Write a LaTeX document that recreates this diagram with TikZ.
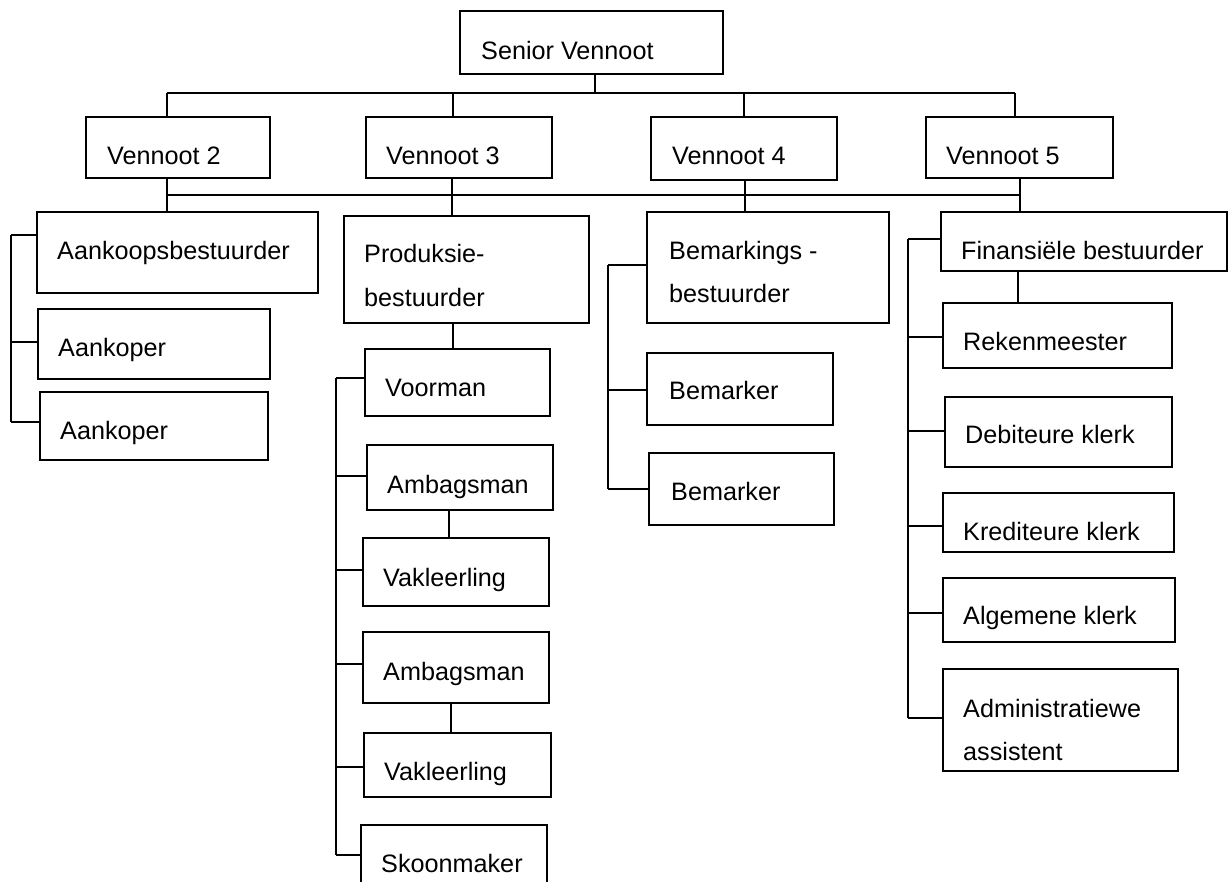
\documentclass[tikz,border=0pt]{standalone}
\usepackage{fontspec}
\setmainfont{Liberation Sans}
\begin{document}
\begin{tikzpicture}[x=1pt,y=-1pt,
  box/.style={draw, line width=1.7pt, inner sep=0pt, outer sep=0pt},
  conn/.style={line width=1.4pt},
  lbl/.style={anchor=base west, inner sep=0pt, font=\fontsize{25.2}{30}\selectfont}]
\clip (0,0) rectangle (1229,882);
% box: name, left, top, right, bottom
\newcommand\orgbox[5]{\node[box, minimum width={#4-#2}, minimum height={#5-#3}] (#1) at ({(#2+#4)/2},{(#3+#5)/2}) {};}
% top level
\orgbox{sv}{460}{11}{723}{74}
\node[lbl] (sv-t) at (481,60) {Senior Vennoot};
% partners
\orgbox{v2}{86}{117}{270}{178}
\orgbox{v3}{366}{117}{552}{178}
\orgbox{v4}{651}{117}{837}{180}
\orgbox{v5}{926}{117}{1113}{178}
\node[lbl] (v2-t) at (107,165) {Vennoot 2};
\node[lbl] (v3-t) at (386,165) {Vennoot 3};
\node[lbl] (v4-t) at (672,165) {Vennoot 4};
\node[lbl] (v5-t) at (946,165) {Vennoot 5};
% purchasing
\orgbox{aank}{37}{212}{318}{293}
\orgbox{ak1}{38}{309}{270}{379}
\orgbox{ak2}{40}{392}{268}{460}
\node[lbl] (aank-t) at (57,260) {Aankoopsbestuurder};
\node[lbl] (ak1-t) at (58,357) {Aankoper};
\node[lbl] (ak2-t) at (60,439) {Aankoper};
% production
\orgbox{prod}{344}{216}{589}{323}
\orgbox{voor}{365}{349}{550}{416}
\orgbox{amb1}{367}{445}{553}{510}
\orgbox{vak1}{363}{538}{549}{606}
\orgbox{amb2}{363}{632}{549}{703}
\orgbox{vak2}{364}{733}{551}{797}
\orgbox{skoon}{361}{825}{547}{885}
\node[lbl] (prod-t1) at (364,263) {Produksie-};
\node[lbl] (prod-t2) at (364,307) {bestuurder};
\node[lbl] (voor-t) at (385,397) {Voorman};
\node[lbl] (amb1-t) at (387,493) {Ambagsman};
\node[lbl] (vak1-t) at (383,586) {Vakleerling};
\node[lbl] (amb2-t) at (383,680) {Ambagsman};
\node[lbl] (vak2-t) at (384,780) {Vakleerling};
\node[lbl] (skoon-t) at (381,872) {Skoonmaker};
% marketing
\orgbox{bem}{647}{212}{889}{323}
\orgbox{bm1}{647}{353}{833}{425}
\orgbox{bm2}{649}{453}{834}{525}
\node[lbl] (bem-t1) at (669,260) {Bemarkings -};
\node[lbl] (bem-t2) at (669,303) {bestuurder};
\node[lbl] (bm1-t) at (669,400) {Bemarker};
\node[lbl] (bm2-t) at (671,500) {Bemarker};
% finance
\orgbox{fin}{941}{212}{1227}{271}
\orgbox{rek}{943}{303}{1172}{368}
\orgbox{deb}{945}{397}{1172}{467}
\orgbox{kred}{943}{493}{1174}{552}
\orgbox{alg}{943}{578}{1175}{642}
\orgbox{adm}{943}{669}{1178}{771}
\node[lbl] (fin-t) at (961,260) {Finansiële bestuurder};
\node[lbl] (rek-t) at (963,351) {Rekenmeester};
\node[lbl] (deb-t) at (965,443) {Debiteure klerk};
\node[lbl] (kred-t) at (963,540) {Krediteure klerk};
\node[lbl] (alg-t) at (963,624) {Algemene klerk};
\node[lbl] (adm-t1) at (963,717) {Administratiewe};
\node[lbl] (adm-t2) at (963,760) {assistent};

% senior partner to partners
\draw[conn] (sv.south -| 595,0) -- (595,93);
\draw[conn] (167,93) -- (1015,93);
\foreach \n/\x in {v2/167,v3/453,v4/744,v5/1015}
  \draw[conn] (\x,93) -- (\n.north -| \x,0);
% partners to department heads
\draw[conn] (167,195) -- (1021,195);
\draw[conn] (v2.south -| 167,0) -- (aank.north -| 167,0);
\draw[conn] (v3.south -| 452,0) -- (prod.north -| 452,0);
\draw[conn] (v4.south -| 745,0) -- (bem.north -| 745,0);
\draw[conn] (v5.south -| 1020,0) -- (fin.north -| 1020,0);
% purchasing bracket
\draw[conn] (11,235) -- (11,422);
\foreach \n/\y in {aank/235,ak1/342,ak2/422}
  \draw[conn] (11,\y) -- (\n.west |- 0,\y);
% production
\draw[conn] (prod.south -| 453,0) -- (voor.north -| 453,0);
\draw[conn] (336,378) -- (336,855);
\foreach \n/\y in {voor/378,amb1/476,vak1/570,amb2/664,vak2/767,skoon/855}
  \draw[conn] (336,\y) -- (\n.west |- 0,\y);
\draw[conn] (amb1.south -| 449,0) -- (vak1.north -| 449,0);
\draw[conn] (amb2.south -| 451,0) -- (vak2.north -| 451,0);
% marketing bracket
\draw[conn] (608,265) -- (608,489);
\foreach \n/\y in {bem/265,bm1/390,bm2/489}
  \draw[conn] (608,\y) -- (\n.west |- 0,\y);
% finance
\draw[conn] (fin.south -| 1018,0) -- (rek.north -| 1018,0);
\draw[conn] (908,239) -- (908,718);
\foreach \n/\y in {fin/239,rek/337,deb/431,kred/526,alg/613,adm/718}
  \draw[conn] (908,\y) -- (\n.west |- 0,\y);
\end{tikzpicture}
\end{document}
